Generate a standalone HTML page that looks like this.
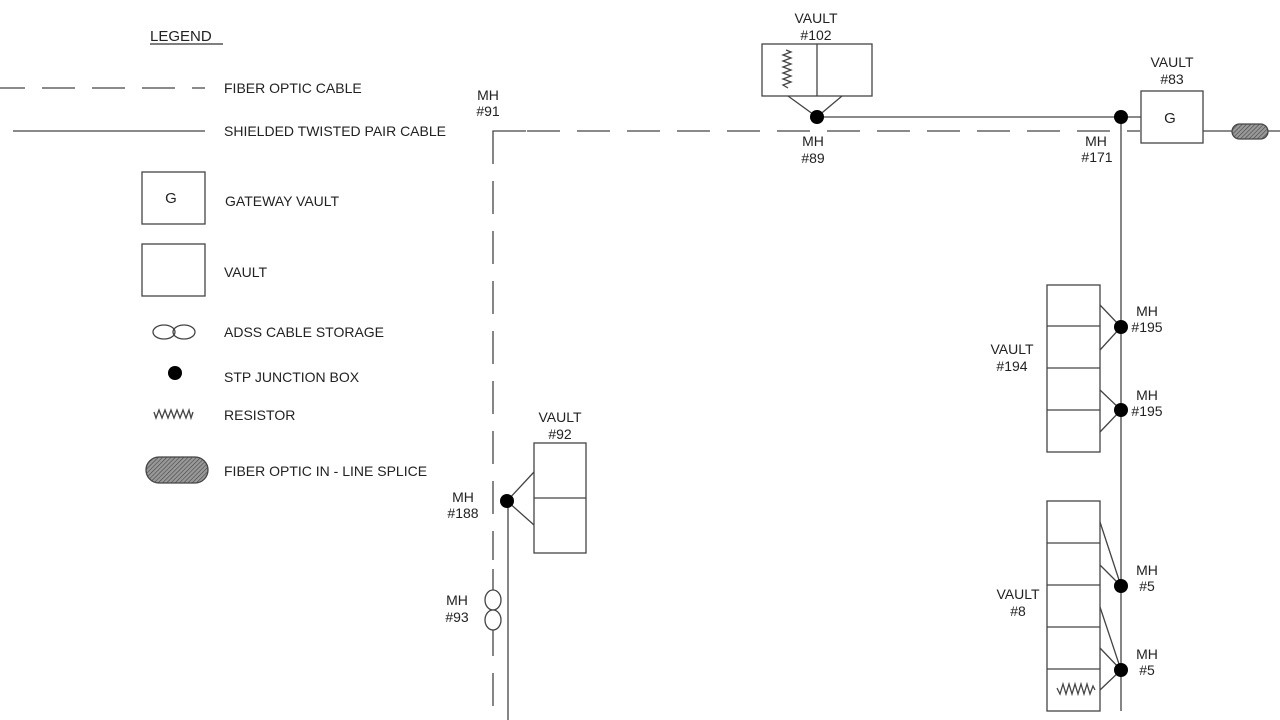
<!DOCTYPE html>
<html><head><meta charset="utf-8"><style>
html,body{margin:0;padding:0;background:#fff;}
svg{display:block;}
text{font-family:"Liberation Sans",Arial,sans-serif;font-size:14px;fill:#222;}
</style></head><body>
<svg width="1280" height="720" viewBox="0 0 1280 720" xmlns="http://www.w3.org/2000/svg">
<defs>
<pattern id="hatch" width="3" height="3" patternUnits="userSpaceOnUse" patternTransform="rotate(45)">
<rect width="3" height="3" fill="#999"/><line x1="0" y1="0" x2="0" y2="3" stroke="#444" stroke-width="1.2"/>
</pattern>
</defs>
<g stroke="#444" stroke-width="1.3" fill="none">
<path d="M0 88 H205" stroke-dasharray="33 17" stroke-dashoffset="8"/>
<path d="M13 131 H205"/>
<rect x="142" y="172" width="63" height="52"/>
<rect x="142" y="244" width="63" height="52"/>
<ellipse cx="164" cy="332" rx="11" ry="7"/>
<ellipse cx="184" cy="332" rx="11" ry="7"/>
<path d="M154 412 L156 418 L159 410 L162 418 L165 410 L168 418 L171 410 L174 418 L177 410 L180 418 L183 410 L186 418 L189 410 L191 418 L193 412"/>
<rect x="146" y="457" width="62" height="26" rx="13" fill="url(#hatch)"/>
<path d="M526 131 H1140" stroke-dasharray="33 17" stroke-dashoffset="-1"/>
<path d="M526 131 H493 V164"/>
<path d="M493 181 V560" stroke-dasharray="33 17"/>
<path d="M493 569 V590 M493 630 V656 M493 673 V706"/>
<ellipse cx="493" cy="600" rx="8" ry="10" fill="#fff"/>
<ellipse cx="493" cy="620" rx="8" ry="10" fill="#fff"/>
<path d="M817 117 H1141"/>
<path d="M1121 117 V711"/>
<path d="M508 501 V720"/>
<path d="M1203 131 H1232 M1268 131 H1280"/>
<rect x="1232" y="124" width="36" height="15" rx="7.5" fill="url(#hatch)"/>
<rect x="762" y="44" width="110" height="52"/>
<path d="M817 44 V96"/>
<path d="M788 96 L817 117 L842 96"/>
<path d="M786 50 L791 52 L783 55 L791 58 L783 61 L791 64 L783 67 L791 70 L783 73 L791 76 L783 79 L791 82 L783 85 L788 88"/>
<rect x="1141" y="91" width="62" height="52"/>
<rect x="1047" y="285" width="53" height="167"/>
<path d="M1047 326 H1100 M1047 368 H1100 M1047 410 H1100"/>
<path d="M1100 305 L1121 327 L1100 350 M1100 390 L1121 410 L1100 432"/>
<rect x="1047" y="501" width="53" height="210"/>
<path d="M1047 543 H1100 M1047 585 H1100 M1047 627 H1100 M1047 669 H1100"/>
<path d="M1100 522 L1121 586 L1100 565 M1100 607 L1121 670 L1100 648 M1100 690 L1121 670"/>
<path d="M1057 688 L1060 694 L1063 684 L1066 694 L1069 684 L1072 694 L1075 684 L1078 694 L1081 684 L1084 694 L1087 684 L1090 694 L1093 686 L1095 690"/>
<rect x="534" y="443" width="52" height="110"/>
<path d="M534 498 H586"/>
<path d="M534 472 L507 501 L534 525"/>
</g>
<g fill="#000">
<circle cx="175" cy="373" r="7"/>
<circle cx="817" cy="117" r="7"/>
<circle cx="1121" cy="117" r="7"/>
<circle cx="1121" cy="327" r="7"/>
<circle cx="1121" cy="410" r="7"/>
<circle cx="1121" cy="586" r="7"/>
<circle cx="1121" cy="670" r="7"/>
<circle cx="507" cy="501" r="7"/>
</g>
<text x="150" y="41" style="font-size:15px">LEGEND</text>
<line x1="150" y1="44" x2="223" y2="44" stroke="#333" stroke-width="1.2"/>
<text x="224" y="93">FIBER OPTIC CABLE</text>
<text x="224" y="136">SHIELDED TWISTED PAIR CABLE</text>
<text x="225" y="206">GATEWAY VAULT</text>
<text x="224" y="277">VAULT</text>
<text x="224" y="337">ADSS CABLE STORAGE</text>
<text x="224" y="382">STP JUNCTION BOX</text>
<text x="224" y="420">RESISTOR</text>
<text x="224" y="476">FIBER OPTIC IN - LINE SPLICE</text>
<text x="171" y="203" text-anchor="middle" style="font-size:15px">G</text>
<text x="1170" y="123" text-anchor="middle" style="font-size:15px">G</text>
<g text-anchor="middle">
<text x="816" y="23">VAULT</text><text x="816" y="40">#102</text>
<text x="813" y="146">MH</text><text x="813" y="163">#89</text>
<text x="1096" y="146">MH</text><text x="1097" y="162">#171</text>
<text x="1172" y="67">VAULT</text><text x="1172" y="84">#83</text>
<text x="488" y="100">MH</text><text x="488" y="116">#91</text>
<text x="1147" y="316">MH</text><text x="1147" y="332">#195</text>
<text x="1147" y="400">MH</text><text x="1147" y="416">#195</text>
<text x="1012" y="354">VAULT</text><text x="1012" y="371">#194</text>
<text x="1018" y="599">VAULT</text><text x="1018" y="616">#8</text>
<text x="1147" y="575">MH</text><text x="1147" y="591">#5</text>
<text x="1147" y="659">MH</text><text x="1147" y="675">#5</text>
<text x="560" y="422">VAULT</text><text x="560" y="439">#92</text>
<text x="463" y="502">MH</text><text x="463" y="518">#188</text>
<text x="457" y="605">MH</text><text x="457" y="622">#93</text>
</g>
</svg>
</body></html>
